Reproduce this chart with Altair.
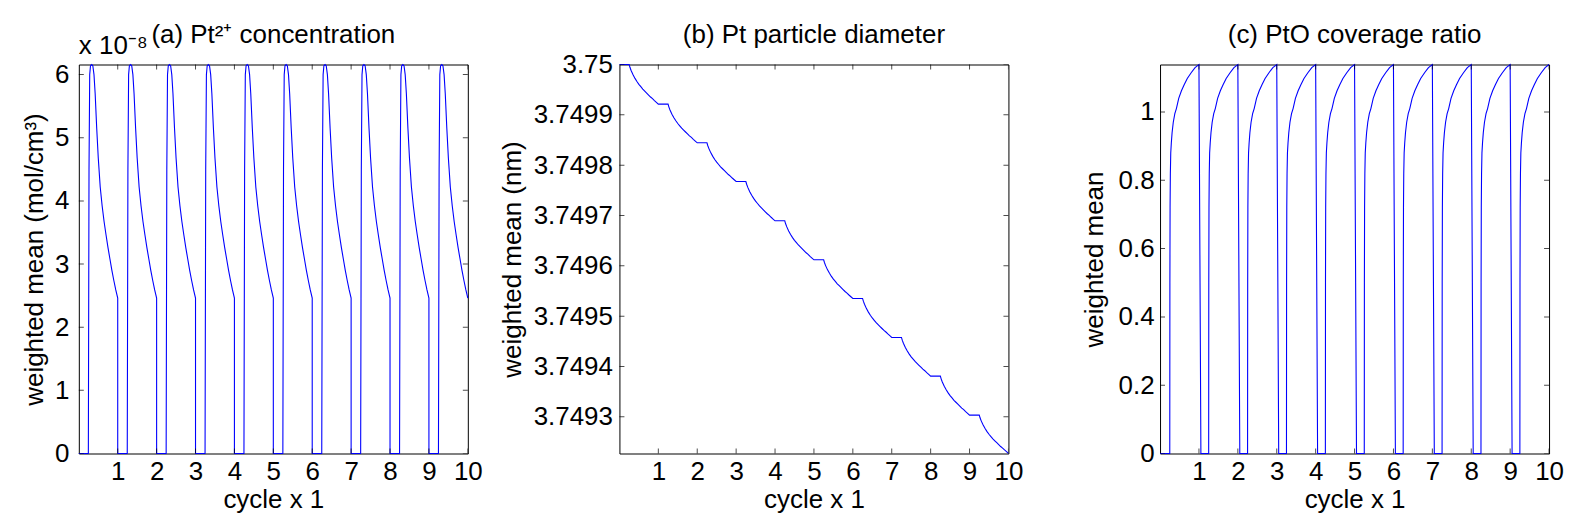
import altair as alt
import pandas as pd

FONT = "Liberation Sans"
FS = 26
BLUE = "#0000ff"

# ---------------- shared x axis ----------------
x_domain = [0, 10]
x_ticks = [1, 2, 3, 4, 5, 6, 7, 8, 9, 10]
n_cycles = 10

# ---------------- (a) Pt2+ concentration (x 1e-8 mol/cm3) ----------------
# one cycle: offset inside the cycle -> value
a_cycle_t = [0.245, 0.262, 0.28, 0.30, 0.33, 0.36, 0.39, 0.42, 0.46, 0.50,
             0.55, 0.60, 0.65, 0.70, 0.75, 0.80, 0.85, 0.90, 0.95, 1.00]
a_cycle_v = [0.0, 4.5, 6.00, 6.14, 6.16, 6.14, 6.00, 5.70, 5.15, 4.68,
             4.22, 3.92, 3.67, 3.46, 3.26, 3.08, 2.90, 2.74, 2.59, 2.46]
a_yticks = [0, 1, 2, 3, 4, 5, 6]
a_ydomain = [0, 6.16]

# ---------------- (b) Pt particle diameter (nm) ----------------
b_levels = [3.75, 3.7499212, 3.7498444, 3.7497675, 3.7496894, 3.7496119,
            3.7495351, 3.7494576, 3.7493808, 3.7493033, 3.7492272]
b_cycle_t = [0.25, 0.27, 0.30, 0.35, 0.40, 0.45, 0.50, 0.55, 0.60,
             0.65, 0.70, 0.75, 0.80, 0.85, 0.90, 0.95, 1.00]
b_cycle_frac = [0.0, 0.07, 0.15, 0.26, 0.35, 0.43, 0.50, 0.56, 0.62,
                0.67, 0.72, 0.77, 0.82, 0.86, 0.91, 0.955, 1.0]
b_yticks = [3.7493, 3.7494, 3.7495, 3.7496, 3.7497, 3.7498, 3.7499, 3.75]
b_ydomain = [3.749227, 3.75]

# ---------------- (c) PtO coverage ratio ----------------
c_cycle_t = [0.25, 0.253, 0.258, 0.265, 0.275, 0.29, 0.31, 0.34, 0.38, 0.42,
             0.48, 0.55, 0.62, 0.70, 0.80, 0.90, 1.00]
c_cycle_v = [0.0, 0.50, 0.72, 0.82, 0.88, 0.91, 0.94, 0.97, 0.995, 1.01,
             1.04, 1.062, 1.08, 1.098, 1.115, 1.13, 1.139]
c_drop_end = 0.05
c_yticks = [0, 0.2, 0.4, 0.6, 0.8, 1.0]
c_ydomain = [0, 1.139]


def build_a():
    xs, ys = [0.0], [0.0]
    for k in range(n_cycles):
        for t, v in zip(a_cycle_t, a_cycle_v):
            xs.append(k + t)
            ys.append(v)
        if k < n_cycles - 1:
            xs.append(k + 1.0)
            ys.append(0.0)
    return pd.DataFrame({"x": xs, "y": ys, "i": list(range(len(xs)))})


def build_b():
    xs, ys = [], []
    for k in range(n_cycles):
        hi, lo = b_levels[k], b_levels[k + 1]
        xs.append(float(k))
        ys.append(hi)
        for t, f in zip(b_cycle_t, b_cycle_frac):
            xs.append(k + t)
            ys.append(hi - (hi - lo) * f)
    return pd.DataFrame({"x": xs, "y": ys, "i": list(range(len(xs)))})


def build_c():
    xs, ys = [0.0], [0.0]
    for k in range(n_cycles):
        for t, v in zip(c_cycle_t, c_cycle_v):
            xs.append(k + t)
            ys.append(v)
        if k < n_cycles - 1:
            xs.append(k + 1.0 + c_drop_end)
            ys.append(0.0)
    return pd.DataFrame({"x": xs, "y": ys, "i": list(range(len(xs)))})


def panel(df, title, ytitle, ydomain, yticks, yfmt, lab_pad, title_pad, exponent=None):
    xs = alt.Scale(domain=x_domain, nice=False, zero=False)
    ys = alt.Scale(domain=ydomain, nice=False, zero=False)
    xax = alt.Axis(values=x_ticks, format="d", title="cycle x 1", ticks=False,
                   domain=False, grid=False, labelPadding=5, titlePadding=2,
                   labelFlush=False, labelOverlap=False)
    yax = alt.Axis(values=yticks, format=yfmt, title=ytitle, ticks=False,
                   domain=False, grid=False, labelPadding=lab_pad,
                   titlePadding=title_pad, labelFlush=False, labelOverlap=False)
    X = alt.X("x:Q", scale=xs, axis=xax, title="cycle x 1")
    Y = alt.Y("y:Q", scale=ys, axis=yax, title=ytitle)

    line = alt.Chart(df).mark_line(color=BLUE, strokeWidth=1.1).encode(
        x=X, y=Y, order="i:Q")

    # inward ticks on all four sides (MATLAB box style)
    xt = pd.DataFrame({"x": x_ticks + x_ticks,
                       "y": [ydomain[0]] * len(x_ticks) + [ydomain[1]] * len(x_ticks)})
    yt = pd.DataFrame({"x": [x_domain[0]] * len(yticks) + [x_domain[1]] * len(yticks),
                       "y": yticks + yticks})
    xtick = alt.Chart(xt).mark_tick(orient="vertical", size=10, thickness=1,
                                    color="black", clip=True).encode(x=X, y=Y)
    ytick = alt.Chart(yt).mark_tick(orient="horizontal", size=10, thickness=1,
                                    color="black", clip=True).encode(x=X, y=Y)

    tdf = pd.DataFrame({"x": [5], "y": [ydomain[1]], "t": [title]})
    ttl = alt.Chart(tdf).mark_text(align="center", baseline="alphabetic", dy=-22,
                                   fontSize=FS, font=FONT, color="black").encode(
        x=X, y=Y, text="t:N")
    layers = [line, xtick, ytick, ttl]
    if exponent:
        edf = pd.DataFrame({"x": [x_domain[0]], "y": [ydomain[1]], "t": [exponent]})
        ex = alt.Chart(edf).mark_text(align="left", baseline="alphabetic", dy=-11,
                                      fontSize=FS, font=FONT, color="black").encode(
            x=X, y=Y, text="t:N")
        layers.append(ex)
    return alt.layer(*layers).properties(width=390, height=390)


pa = panel(build_a(), "(a) Pt\u00b2\u207a concentration", "weighted mean (mol/cm\u00b3)",
           a_ydomain, a_yticks, "d", 10, 7, exponent="x 10\u207b\u2078")
pb = panel(build_b(), "(b) Pt particle diameter", "weighted mean (nm)",
           b_ydomain, b_yticks, ".4~f", 7, 8)
pc = panel(build_c(), "(c) PtO coverage ratio", "weighted mean",
           c_ydomain, c_yticks, ".1~f", 6, 11)

chart = alt.hconcat(pa, pb, pc, spacing=152, bounds="flush").properties(
    padding={"left": 13, "top": 12, "right": 5, "bottom": 5}
).configure(font=FONT).configure_view(
    stroke="black", strokeWidth=1
).configure_axis(
    labelFont=FONT, titleFont=FONT, labelFontSize=FS, titleFontSize=FS,
    labelColor="black", titleColor="black", titleFontWeight="normal"
)

chart.save("out.html", embed_options={"renderer": "svg", "actions": False})
